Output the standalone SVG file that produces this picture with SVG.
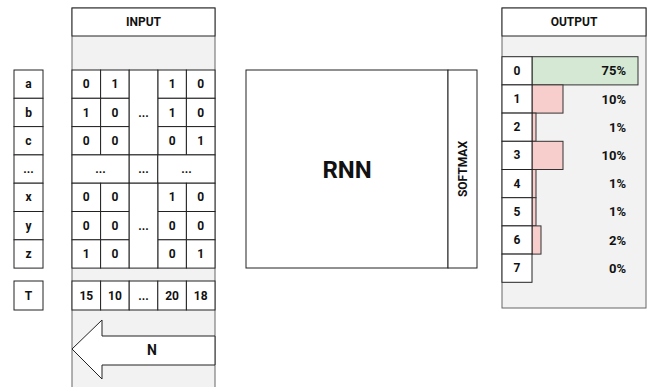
<svg xmlns="http://www.w3.org/2000/svg" width="650" height="387" viewBox="0 0 650 387">
<style>
.t{font-family:Roboto,"Liberation Sans",sans-serif;font-weight:bold;font-size:12px;fill:#111;text-anchor:middle;dominant-baseline:central}
.c{fill:#fff;stroke:#222;stroke-width:1}
.panel{fill:#f2f2f2;stroke:#666;stroke-width:1}
.g{fill:#d5e8d4;stroke:#333;stroke-width:1}
.p{fill:#f8cecc;stroke:#333;stroke-width:1}
.pct{text-anchor:end;font-size:13px}
</style>
<rect width="650" height="387" fill="#fff"/>

<g id="labels">
<rect class="c" x="14" y="70" width="29" height="28.3"/><text class="t" x="28.5" y="84.2">a</text>
<rect class="c" x="14" y="98.3" width="29" height="28.3"/><text class="t" x="28.5" y="112.5">b</text>
<rect class="c" x="14" y="126.6" width="29" height="28.3"/><text class="t" x="28.5" y="140.8">c</text>
<rect class="c" x="14" y="154.9" width="29" height="28.3"/><text class="t" x="28.5" y="169">...</text>
<rect class="c" x="14" y="183.2" width="29" height="28.3"/><text class="t" x="28.5" y="197.4">x</text>
<rect class="c" x="14" y="211.5" width="29" height="28.3"/><text class="t" x="28.5" y="225.7">y</text>
<rect class="c" x="14" y="239.8" width="29" height="28.3"/><text class="t" x="28.5" y="254">z</text>
<rect class="c" x="14" y="281" width="29" height="29"/><text class="t" x="28.5" y="295.5">T</text>
</g>

<g id="input">
<rect class="panel" x="72" y="8" width="143" height="385"/>
<rect class="c" x="72" y="8" width="143" height="28"/><text class="t" x="143.5" y="22">INPUT</text>
<rect class="c" x="72" y="70" width="28.6" height="28.3"/><text class="t" x="86.3" y="84.2">0</text>
<rect class="c" x="100.6" y="70" width="28.6" height="28.3"/><text class="t" x="114.9" y="84.2">1</text>
<rect class="c" x="157.8" y="70" width="28.6" height="28.3"/><text class="t" x="172.1" y="84.2">1</text>
<rect class="c" x="186.4" y="70" width="28.6" height="28.3"/><text class="t" x="200.7" y="84.2">0</text>
<rect class="c" x="72" y="98.3" width="28.6" height="28.3"/><text class="t" x="86.3" y="112.5">1</text>
<rect class="c" x="100.6" y="98.3" width="28.6" height="28.3"/><text class="t" x="114.9" y="112.5">0</text>
<rect class="c" x="157.8" y="98.3" width="28.6" height="28.3"/><text class="t" x="172.1" y="112.5">1</text>
<rect class="c" x="186.4" y="98.3" width="28.6" height="28.3"/><text class="t" x="200.7" y="112.5">0</text>
<rect class="c" x="72" y="126.6" width="28.6" height="28.3"/><text class="t" x="86.3" y="140.8">0</text>
<rect class="c" x="100.6" y="126.6" width="28.6" height="28.3"/><text class="t" x="114.9" y="140.8">0</text>
<rect class="c" x="157.8" y="126.6" width="28.6" height="28.3"/><text class="t" x="172.1" y="140.8">0</text>
<rect class="c" x="186.4" y="126.6" width="28.6" height="28.3"/><text class="t" x="200.7" y="140.8">1</text>
<rect class="c" x="129.2" y="70" width="28.6" height="84.9"/><text class="t" x="143.5" y="112.5">...</text>
<rect class="c" x="72" y="154.9" width="57.2" height="28.3"/><text class="t" x="100.6" y="169">...</text>
<rect class="c" x="129.2" y="154.9" width="28.6" height="28.3"/><text class="t" x="143.5" y="169">...</text>
<rect class="c" x="157.8" y="154.9" width="57.2" height="28.3"/><text class="t" x="186.4" y="169">...</text>
<rect class="c" x="72" y="183.2" width="28.6" height="28.3"/><text class="t" x="86.3" y="197.4">0</text>
<rect class="c" x="100.6" y="183.2" width="28.6" height="28.3"/><text class="t" x="114.9" y="197.4">0</text>
<rect class="c" x="157.8" y="183.2" width="28.6" height="28.3"/><text class="t" x="172.1" y="197.4">1</text>
<rect class="c" x="186.4" y="183.2" width="28.6" height="28.3"/><text class="t" x="200.7" y="197.4">0</text>
<rect class="c" x="72" y="211.5" width="28.6" height="28.3"/><text class="t" x="86.3" y="225.7">0</text>
<rect class="c" x="100.6" y="211.5" width="28.6" height="28.3"/><text class="t" x="114.9" y="225.7">0</text>
<rect class="c" x="157.8" y="211.5" width="28.6" height="28.3"/><text class="t" x="172.1" y="225.7">0</text>
<rect class="c" x="186.4" y="211.5" width="28.6" height="28.3"/><text class="t" x="200.7" y="225.7">0</text>
<rect class="c" x="72" y="239.8" width="28.6" height="28.3"/><text class="t" x="86.3" y="254">1</text>
<rect class="c" x="100.6" y="239.8" width="28.6" height="28.3"/><text class="t" x="114.9" y="254">0</text>
<rect class="c" x="157.8" y="239.8" width="28.6" height="28.3"/><text class="t" x="172.1" y="254">0</text>
<rect class="c" x="186.4" y="239.8" width="28.6" height="28.3"/><text class="t" x="200.7" y="254">1</text>
<rect class="c" x="129.2" y="183.2" width="28.6" height="84.9"/><text class="t" x="143.5" y="225.7">...</text>
<rect class="c" x="72" y="281" width="28.6" height="29"/><text class="t" x="86.3" y="295.5">15</text>
<rect class="c" x="100.6" y="281" width="28.6" height="29"/><text class="t" x="114.9" y="295.5">10</text>
<rect class="c" x="129.2" y="281" width="28.6" height="29"/><text class="t" x="143.5" y="295.5">...</text>
<rect class="c" x="157.8" y="281" width="28.6" height="29"/><text class="t" x="172.1" y="295.5">20</text>
<rect class="c" x="186.4" y="281" width="28.6" height="29"/><text class="t" x="200.7" y="295.5">18</text>
</g>

<g id="arrow-n">
<polygon class="c" points="72,349 102,320 102,336 215,336 215,365 102,365 102,379"/>
<text class="t" x="152" y="350" style="font-size:14px">N</text>
</g>

<g id="rnn">
<rect class="c" x="246" y="70" width="202" height="198"/>
<text class="t" x="347" y="170" style="font-size:24px">RNN</text>
</g>
<g id="softmax">
<rect class="c" x="448" y="70" width="29" height="198"/>
<text class="t" transform="translate(463,169) rotate(-90)">SOFTMAX</text>
</g>

<g id="output">
<rect class="panel" x="502" y="8" width="144" height="300"/>
<rect class="c" x="502" y="8" width="144" height="28"/><text class="t" x="574" y="22">OUTPUT</text>
<rect class="g" x="532" y="56.7" width="106" height="28.2"/>
<rect class="p" x="532" y="84.9" width="31" height="28.2"/>
<rect class="p" x="532" y="113.1" width="4" height="28.2"/>
<rect class="p" x="532" y="141.3" width="31" height="28.2"/>
<rect class="p" x="532" y="169.5" width="4" height="28.2"/>
<rect class="p" x="532" y="197.7" width="4" height="28.2"/>
<rect class="p" x="532" y="225.9" width="9" height="28.2"/>
<rect class="c" x="502" y="56.7" width="30" height="28.2"/><text class="t" x="517" y="70.8">0</text>
<rect class="c" x="502" y="84.9" width="30" height="28.2"/><text class="t" x="517" y="99">1</text>
<rect class="c" x="502" y="113.1" width="30" height="28.2"/><text class="t" x="517" y="127.2">2</text>
<rect class="c" x="502" y="141.3" width="30" height="28.2"/><text class="t" x="517" y="155.4">3</text>
<rect class="c" x="502" y="169.5" width="30" height="28.2"/><text class="t" x="517" y="183.6">4</text>
<rect class="c" x="502" y="197.7" width="30" height="28.2"/><text class="t" x="517" y="211.8">5</text>
<rect class="c" x="502" y="225.9" width="30" height="28.2"/><text class="t" x="517" y="240">6</text>
<rect class="c" x="502" y="254.1" width="30" height="28.2"/><text class="t" x="517" y="268.2">7</text>
<text class="t pct" x="626" y="70.8">75%</text>
<text class="t pct" x="626" y="99">10%</text>
<text class="t pct" x="626" y="127.2">1%</text>
<text class="t pct" x="626" y="155.4">10%</text>
<text class="t pct" x="626" y="183.6">1%</text>
<text class="t pct" x="626" y="211.8">1%</text>
<text class="t pct" x="626" y="240">2%</text>
<text class="t pct" x="626" y="268.2">0%</text>
</g>
</svg>
